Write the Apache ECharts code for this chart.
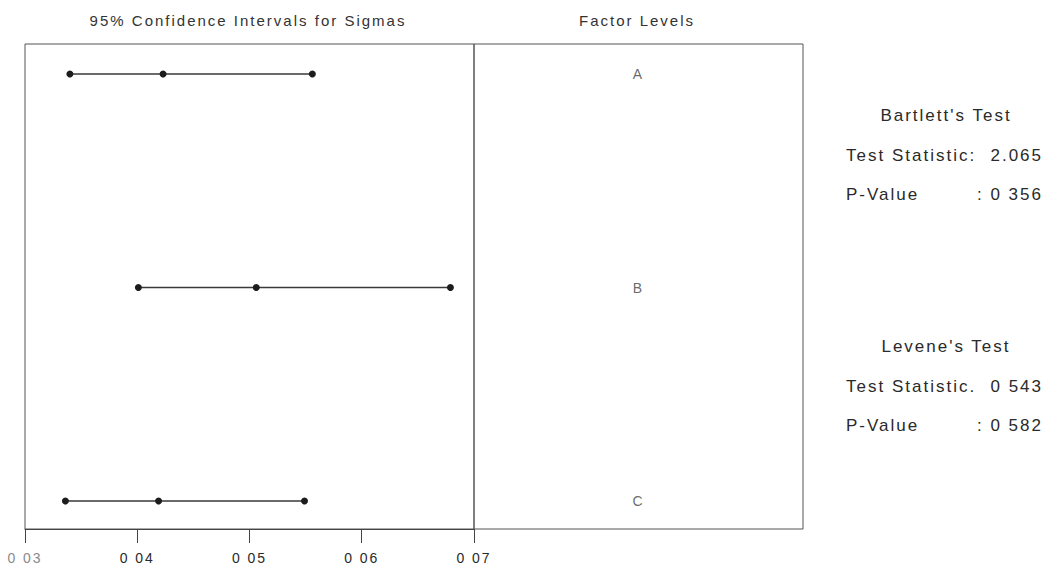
<!DOCTYPE html>
<html>
<head>
<meta charset="utf-8">
<script src="https://cdn.jsdelivr.net/npm/echarts@6/dist/echarts.min.js"></script>
<style>
  html, body { margin: 0; padding: 0; background: #fff; }
  #chart { width: 1052px; height: 567px; }
  #chart text { letter-spacing: 2px; }
</style>
</head>
<body>
<div id="chart"></div>
<script>
// Factor levels and their row positions (1 = top row)
const factors = ['A', 'B', 'C'];
const factorRows = [1, 2, 3];

// 95% confidence intervals for sigma, per factor level
const lowerCI  = [0.0340, 0.0401, 0.0336];
const sigmaEst = [0.0423, 0.0506, 0.0419];
const upperCI  = [0.0556, 0.0679, 0.0549];

// Sigma axis ticks and their printed labels
const xTicks = [0.03, 0.04, 0.05, 0.06, 0.07];
const xTickLabels = ['0 03', '0 04', '0 05', '0 06', '0 07'];

// Test results shown beside the plot
const bartlettTitle = "Bartlett's Test";
const bartlettStat = ['Test Statistic:', '2.065'];
const bartlettP = ['P-Value', ': 0 356'];
const leveneTitle = "Levene's Test";
const leveneStat = ['Test Statistic.', '0 543'];
const leveneP = ['P-Value', ': 0 582'];

const FONT = '"Liberation Sans", Arial, sans-serif';
const ROW_MIN = 0.8595, ROW_MAX = 3.1311;

const chart = echarts.init(document.getElementById('chart'), null, { renderer: 'svg' });

const intervalSeries = factors.map((f, i) => ({
  name: f,
  type: 'line',
  xAxisIndex: 0,
  yAxisIndex: 0,
  data: [[lowerCI[i], factorRows[i]], [sigmaEst[i], factorRows[i]], [upperCI[i], factorRows[i]]],
  symbol: 'circle',
  symbolSize: 7,
  lineStyle: { color: '#3a3a3a', width: 1.5 },
  itemStyle: { color: '#1c1c1c' },
  emphasis: { disabled: true },
  silent: true,
  z: 3
}));

function text(x, y, str, size, align, color) {
  return {
    type: 'text', x: x, y: y, silent: true,
    style: { text: str, fontSize: size, fontFamily: FONT, fill: color || '#2a2a2a', align: align, verticalAlign: 'middle' }
  };
}

const option = {
  animation: false,
  backgroundColor: '#fff',
  grid: [
    { left: 25, top: 44, width: 449, height: 485, show: true, borderColor: '#555', borderWidth: 1, backgroundColor: 'transparent' },
    { left: 474, top: 44, width: 329, height: 485, show: true, borderColor: '#555', borderWidth: 1, backgroundColor: 'transparent' }
  ],
  xAxis: [
    {
      type: 'value', gridIndex: 0, min: 0.03, max: 0.07, interval: 0.01,
      axisLine: { show: true, lineStyle: { color: '#444', width: 1 } },
      axisTick: { show: true, inside: false, length: 14, lineStyle: { color: '#444', width: 1 } },
      splitLine: { show: false },
      axisLabel: {
        margin: 22, fontSize: 14, fontFamily: FONT, color: '#2a2a2a',
        formatter: function (v) {
          const i = xTicks.findIndex(t => Math.abs(t - v) < 1e-9);
          const lbl = i >= 0 ? xTickLabels[i] : '';
          return i === 0 ? '{dim|' + lbl + '}' : lbl;
        },
        rich: { dim: { color: '#8a8a8a', fontSize: 14, fontFamily: FONT } }
      }
    },
    { type: 'value', gridIndex: 1, min: 0, max: 1, show: false }
  ],
  yAxis: [
    { type: 'value', gridIndex: 0, min: ROW_MIN, max: ROW_MAX, inverse: true, show: false },
    { type: 'value', gridIndex: 1, min: ROW_MIN, max: ROW_MAX, inverse: true, show: false }
  ],
  series: intervalSeries.concat([{
    type: 'scatter',
    xAxisIndex: 1,
    yAxisIndex: 1,
    symbolSize: 0,
    silent: true,
    data: factors.map((f, i) => ({ name: f, value: [0.5, factorRows[i]] })),
    label: { show: true, position: 'inside', formatter: '{b}', fontSize: 14, fontFamily: FONT, color: '#444' }
  }]),
  graphic: [
    text(248, 20, '95% Confidence Intervals for Sigmas', 15, 'center', '#333'),
    text(637, 20, 'Factor Levels', 15, 'center', '#333'),
    text(946, 115, bartlettTitle, 17, 'center'),
    text(846, 155, bartlettStat[0], 17, 'left'),
    text(1043, 155, bartlettStat[1], 17, 'right'),
    text(846, 194, bartlettP[0], 17, 'left'),
    text(1043, 194, bartlettP[1], 17, 'right'),
    text(946, 346, leveneTitle, 17, 'center'),
    text(846, 386, leveneStat[0], 17, 'left'),
    text(1043, 386, leveneStat[1], 17, 'right'),
    text(846, 425, leveneP[0], 17, 'left'),
    text(1043, 425, leveneP[1], 17, 'right')
  ]
};

chart.setOption(option);
</script>
</body>
</html>
